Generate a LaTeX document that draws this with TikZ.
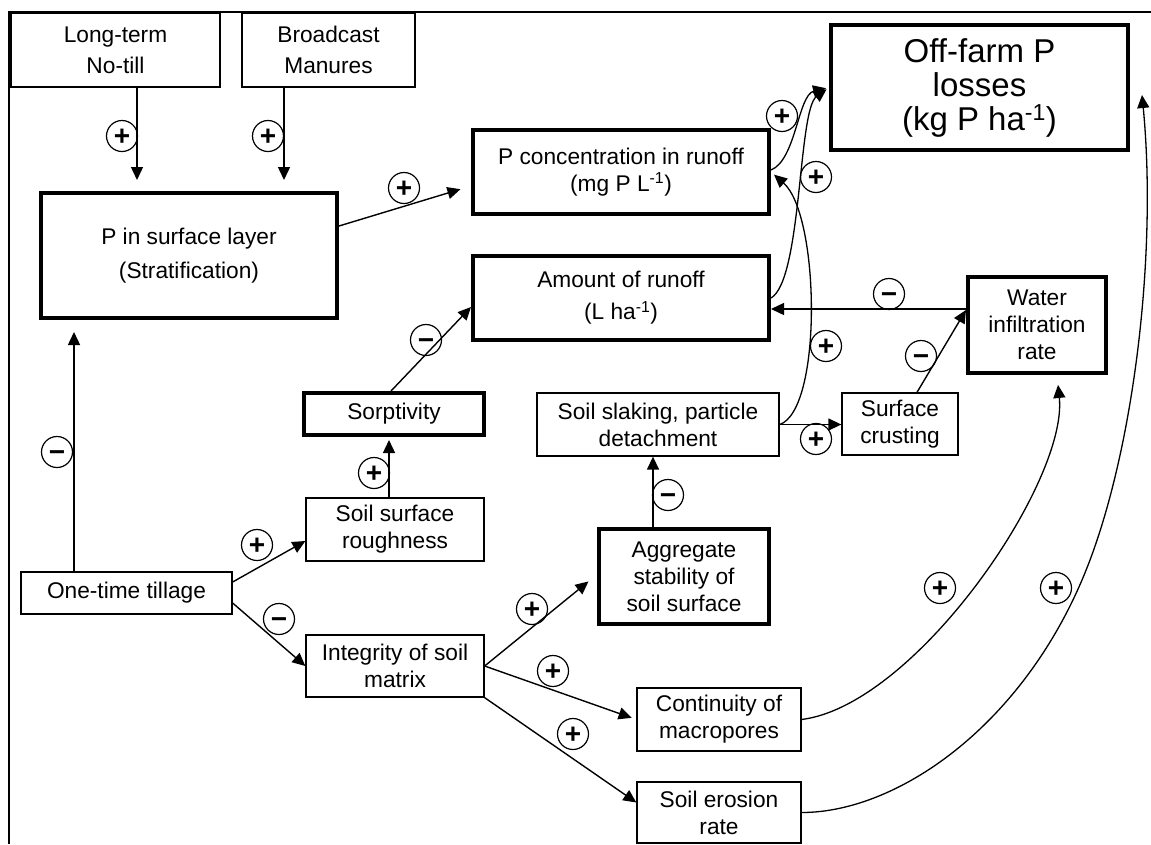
\documentclass[tikz,border=0pt]{standalone}
\usepackage{fontspec}
\setmainfont{Liberation Sans}
\usetikzlibrary{arrows.meta}
\begin{document}
\begin{tikzpicture}[x=1pt,y=-1pt,
  box/.style={draw, line width=1.3pt, align=center, inner sep=0pt,
    font=\fontsize{22.7}{27}\selectfont},
  tbox/.style={box, line width=4pt},
  sign/.style={circle, draw, line width=1.2pt, minimum size=31pt, inner sep=0pt,
    text height=18.5pt, text depth=0pt, font=\fontsize{28}{28}\selectfont\bfseries},
  arr/.style={line width=1.4pt, -{Triangle[length=13pt,width=12pt]}},
  curve/.style={line width=1.3pt, -{Triangle[length=13pt,width=12pt]}}
]
\useasboundingbox (0,0) rectangle (1151,844);
\fill[white] (0,0) rectangle (1151,844);
% frame
\draw[line width=1.5pt] (9,844) -- (9,12) -- (1151,12);

% boxes
\node[box, minimum width=209pt, minimum height=74pt, font=\fontsize{22.7}{31}\selectfont] (lt) at (115.5,50) {Long-term\\No-till};
\node[box, minimum width=173pt, minimum height=74pt, font=\fontsize{22.7}{31}\selectfont] (bm) at (328.5,50) {Broadcast\\Manures};
\node[tbox, minimum width=296pt, minimum height=125pt, font=\fontsize{22.7}{34}\selectfont] (psl) at (189,255.5) {P in surface layer\\(Stratification)};
\node[tbox, minimum width=296pt, minimum height=84pt] (pc) at (621,172) {P concentration in runoff\\(mg P L\textsuperscript{-1})};
\node[tbox, minimum width=296pt, minimum height=84pt, font=\fontsize{22.7}{32}\selectfont] (ar) at (621,298) {Amount of runoff\\(L ha\textsuperscript{-1})};
\node[tbox, minimum width=297pt, minimum height=125pt, font=\fontsize{33}{34}\selectfont] (off) at (979.5,87.5) {Off-farm P\\losses\\(kg P ha\textsuperscript{-1})};
\node[tbox, minimum width=138pt, minimum height=96pt] (wir) at (1037,325) {Water\\infiltration\\rate};
\node[box, minimum width=116pt, minimum height=62pt] (sc) at (900,424) {Surface\\crusting};
\node[box, minimum width=242pt, minimum height=63pt] (ss) at (658,424.5) {Soil slaking, particle\\detachment};
\node[tbox, minimum width=180pt, minimum height=42pt] (sor) at (394,414) {Sorptivity};
\node[box, minimum width=178pt, minimum height=63pt] (ssr) at (395,529.5) {Soil surface\\roughness};
\node[tbox, minimum width=170pt, minimum height=95pt] (agg) at (684,576.5) {Aggregate\\stability of\\soil surface};
\node[box, minimum width=211pt, minimum height=42pt] (ott) at (126.5,593) {One-time tillage};
\node[box, minimum width=178pt, minimum height=62pt] (ism) at (395,666) {Integrity of soil\\matrix};
\node[box, minimum width=164pt, minimum height=63pt] (cm) at (719,719.5) {Continuity of\\macropores};
\node[box, minimum width=164pt, minimum height=61pt] (ser) at (719,812.5) {Soil erosion\\rate};

% straight connectors
\draw[arr, shorten >=11pt] ([xshift=21.5pt]lt.south) -- ([xshift=21.5pt]lt.south |- psl.north);
\draw[arr, shorten >=11pt] ([xshift=-44.5pt]bm.south) -- ([xshift=-44.5pt]bm.south |- psl.north);
\draw[arr, shorten >=11pt] ([yshift=29.5pt]psl.east) -- ([yshift=-14pt]pc.west);
\draw[arr, shorten >=12pt] ([xshift=-52.5pt]ott.north) -- ([xshift=-52.5pt]ott.north |- psl.south);
\draw[arr] ([xshift=-3pt]sor.north) -- ([yshift=-9pt]ar.west);
\draw[arr, shorten >=3pt] ([xshift=-6pt]ssr.north) -- ([xshift=-6pt]ssr.north |- sor.south);
\draw[arr] ([yshift=11pt]ott.east) -- ([yshift=-11.5pt]ssr.west);
\draw[arr] ([yshift=-10pt]ott.east) -- (ism.west);
\draw[arr, shorten >=11pt] (ism.east) -- ([yshift=2pt]agg.west);
\draw[arr, shorten >=5pt] (ism.east) -- (cm.west);
\draw[arr] (ism.south east) -- ([yshift=10pt]ser.west);
\draw[arr] ([xshift=-31pt]agg.north) -- ([xshift=-31pt]agg.north |- ss.south);
\draw[arr] (ss.east) -- (ss.east -| sc.west);
\draw[arr] ([yshift=16pt]wir.west) -- ([yshift=16pt]wir.west -| ar.east);
\draw[arr] ([xshift=17pt]sc.north) -- ([yshift=15pt]wir.west);

% curved connectors
\coordinate (w1) at (1090,560);
\draw[curve, shorten >=10pt] (cm.east) .. controls +(114,-14.5) and +(11,107) .. ([xshift=20pt]wir.south);
\draw[curve] (ser.east) .. controls +(99,0) and +(-60,160) .. (w1) .. controls +(45,-120) and +(15,155) .. ([xshift=12pt,yshift=-7.5pt]off.east);
\draw[curve, shorten >=3pt] ([yshift=2pt]pc.east) .. controls +(25,-10) and +(-31,7.5) .. (off.west);
\draw[curve, shorten >=3pt] (ar.east) .. controls +(31,-18) and +(-31,22.5) .. (off.west);
\draw[curve, shorten >=4pt] (ss.east) .. controls +(43,-14.5) and +(49,43) .. (pc.east);

% signs
\node[sign] (g1) at (122,136) {+};
\node[sign] (g2) at (268,136) {+};
\node[sign] (g3) at (404,188) {+};
\node[sign] (g4) at (57,452) {−};
\node[sign] (g5) at (426,340) {−};
\node[sign] (g6) at (374,473) {+};
\node[sign] (g7) at (257,545) {+};
\node[sign] (g8) at (279,619) {−};
\node[sign] (g9) at (532,609) {+};
\node[sign] (g10) at (553,671) {+};
\node[sign] (g11) at (573,734) {+};
\node[sign] (g12) at (668,495) {−};
\node[sign] (g13) at (816,439) {+};
\node[sign] (g14) at (889,294) {−};
\node[sign] (g15) at (921,356) {−};
\node[sign] (g16) at (826,346) {+};
\node[sign] (g17) at (782,116) {+};
\node[sign] (g18) at (816,177) {+};
\node[sign] (g19) at (940,588) {+};
\node[sign] (g20) at (1056,588) {+};
\end{tikzpicture}
\end{document}
